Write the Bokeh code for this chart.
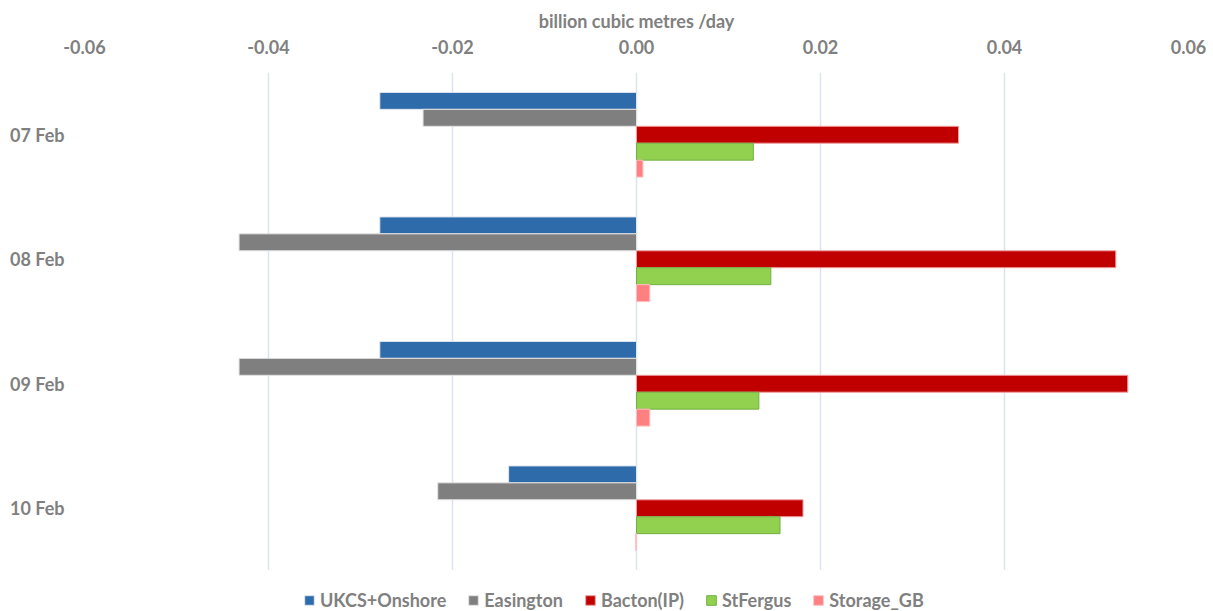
from bokeh.plotting import figure
from bokeh.layouts import column
from bokeh.models import ColumnDataSource, FactorRange, Range1d, Legend, LegendItem, FixedTicker, CustomJSTickFormatter
from bokeh.transform import dodge
from bokeh.embed import file_html
from bokeh.resources import INLINE

# Gas flows by entry point, billion cubic metres per day
days = ["07 Feb", "08 Feb", "09 Feb", "10 Feb"]
ukcs_onshore = [-0.0279, -0.0279, -0.0279, -0.0139]
easington = [-0.0232, -0.0432, -0.0432, -0.0216]
bacton_ip = [0.0350, 0.0521, 0.0534, 0.0181]
st_fergus = [0.0127, 0.0146, 0.0133, 0.0156]
storage_gb = [0.0007, 0.00145, 0.00145, -0.0001]

series = [
    ("UKCS+Onshore", ukcs_onshore, "#2E6BAA", "#dfe6f0", 0.272),
    ("Easington", easington, "#7F7F7F", "#e2e2e2", 0.136),
    ("Bacton(IP)", bacton_ip, "#C00000", "#f0a0a0", 0.0),
    ("StFergus", st_fergus, "#92D050", "#72B043", -0.136),
    ("Storage_GB", storage_gb, "#FF8080", "#ffc0c0", -0.272),
]

FONT = "Lato"
GREY = "#808080"
SIZE = "18px"

src = ColumnDataSource(dict(day=days, **{name: vals for name, vals, *_ in series}))

p = figure(
    y_range=FactorRange(*reversed(days)),
    x_range=Range1d(-0.06, 0.06),
    width=1213, height=570,
    min_border_left=84, min_border_right=25, min_border_top=72, min_border_bottom=0,
    x_axis_location="above",
    output_backend="svg", toolbar_location=None,
)
p.outline_line_color = None
p.background_fill_color = "white"

for name, vals, fill, edge, off in series:
    p.hbar(y=dodge("day", off, range=p.y_range), left=0, right=name, height=0.136,
           source=src, fill_color=fill, line_color=edge, line_width=1)

# top value axis
xa = p.xaxis[0]
xa.ticker = FixedTicker(ticks=[-0.06, -0.04, -0.02, 0.0, 0.02, 0.04, 0.06])
xa.formatter = CustomJSTickFormatter(code="return tick.toFixed(2);")
xa.axis_label = "billion cubic metres /day"
xa.axis_label_text_font = FONT
xa.axis_label_text_font_style = "bold"
xa.axis_label_text_font_size = SIZE
xa.axis_label_text_color = GREY
xa.axis_label_standoff = 5
xa.major_label_text_font = FONT
xa.major_label_text_font_style = "bold"
xa.major_label_text_font_size = SIZE
xa.major_label_text_color = GREY
xa.major_label_standoff = 13
xa.axis_line_color = None
xa.major_tick_line_color = None
xa.minor_tick_line_color = None

ya = p.yaxis[0]
ya.major_label_text_font = FONT
ya.major_label_text_font_style = "bold"
ya.major_label_text_font_size = SIZE
ya.major_label_text_color = GREY
ya.major_label_standoff = 14
ya.axis_line_color = None
ya.major_tick_line_color = None
ya.minor_tick_line_color = None

p.xgrid.grid_line_color = "#D9E3F1"
p.xgrid.grid_line_width = 1.5
p.ygrid.grid_line_color = None

# legend strip beneath the chart; its swatches come from hidden copies of the bar series
leg = figure(width=1213, height=41, y_range=FactorRange(*reversed(days)),
             x_range=Range1d(-0.06, 0.06), min_border=0,
             output_backend="svg", toolbar_location=None)
leg.axis.visible = False
leg.grid.grid_line_color = None
leg.outline_line_color = None

items = []
for name, vals, fill, edge, off in series:
    r = leg.hbar(y=dodge("day", off, range=leg.y_range), left=0, right=name, height=0.136,
                 source=src, fill_color=fill, line_color=edge, line_width=1, visible=False)
    items.append(LegendItem(label=name, renderers=[r]))

legend = Legend(items=items, orientation="horizontal", location=(219, 0),
                label_text_font=FONT, label_text_font_style="bold",
                label_text_font_size=SIZE, label_text_color=GREY,
                glyph_width=12, glyph_height=12, spacing=21, label_standoff=5,
                label_height=15, border_line_color=None, background_fill_alpha=0,
                inactive_fill_alpha=0, padding=0, margin=0)
leg.add_layout(legend)

page = column(p, leg, spacing=0)
open("out.html", "w").write(file_html(page, INLINE))
